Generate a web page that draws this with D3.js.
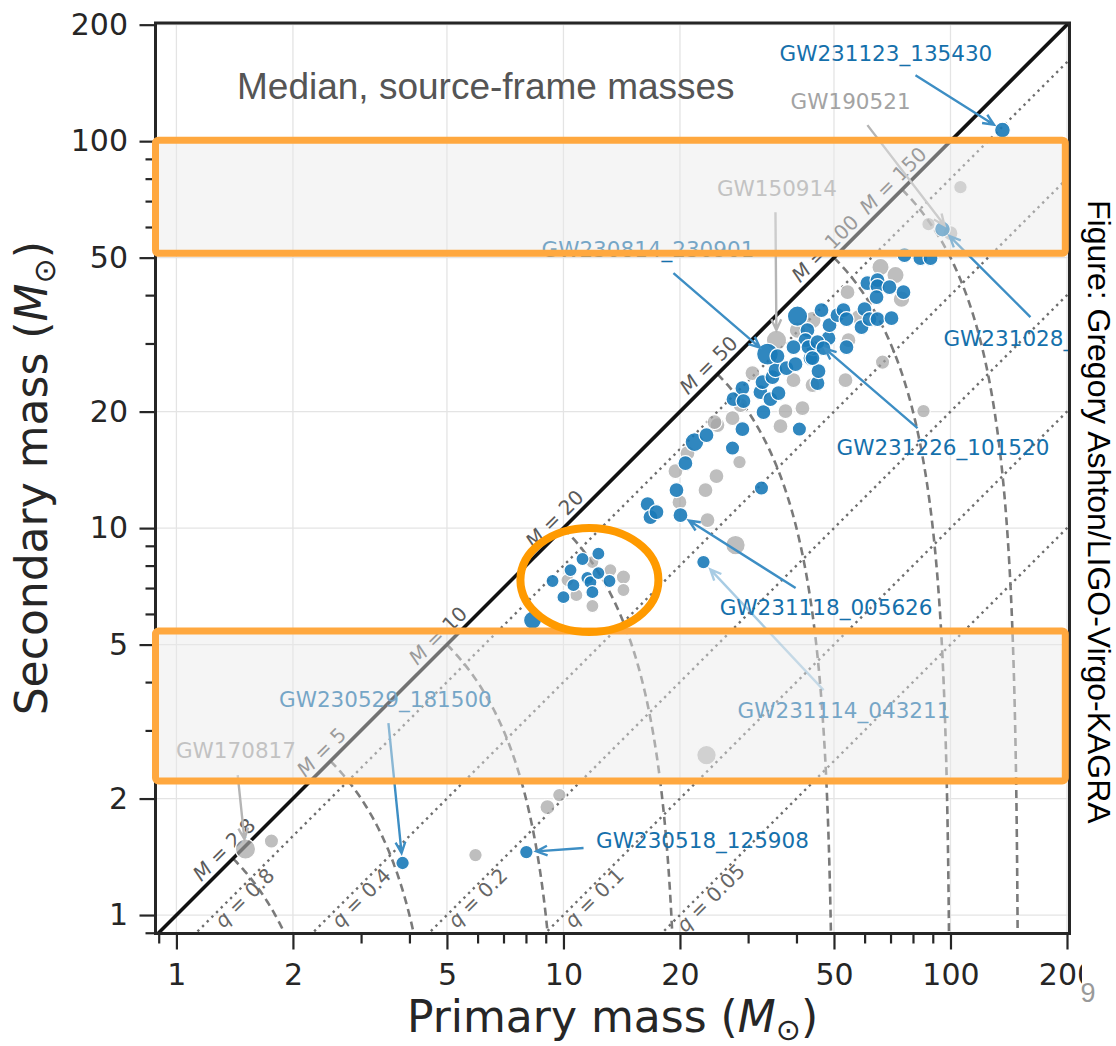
<!DOCTYPE html>
<html>
<head>
<meta charset="utf-8">
<script src="https://cdn.jsdelivr.net/npm/d3@7"></script>
<style>
	body { margin: 0; background: #fff; }
	svg { display: block; }
</style>
</head>
<body>
<div id="chart"></div>
<script>
// Median source-frame masses (solar masses)
const blueM1 = [9.37, 10.0, 10.43, 11.2, 12.31, 10.61, 11.53, 11.74, 12.31, 11.88, 13.15, 8.32,
	16.5, 16.78, 17.39, 19.59, 20.06, 23.0, 20.66, 21.8, 23.42, 27.34, 32.48, 29.0, 40.7,
	27.5, 29.0, 29.18, 32.87, 32.28, 34.26, 35.94, 32.68, 34.67, 35.3, 37.69, 39.77, 45.33, 45.6,
	53.86, 48.4, 43.47, 44.26, 40.25, 33.66, 35.73, 42.7, 42.2, 39.3, 42.97, 45.33, 46.97, 44.0,
	48.69, 46.42, 51.05, 52.9, 53.86, 59.95, 58.9, 61.76, 64.77, 70.4, 61.0, 64.77, 64.77, 69.57, 64.4, 75.6,
	76.05, 83.6, 88.8, 95.35, 136.2, 3.84, 8.02];
const blueM2 = [7.30, 6.63, 7.79, 8.32, 8.59, 7.12, 7.43, 7.25, 7.65, 6.83, 7.30, 5.78,
	11.53, 10.68, 11.0, 12.54, 10.8, 8.17, 14.72, 16.68, 17.39, 16.1, 12.69, 18.03, 18.03,
	21.54, 23.0, 21.29, 19.94, 22.46, 21.54, 22.33, 23.84, 24.56, 25.6, 25.91, 26.53, 23.7, 25.45,
	29.36, 30.97, 27.5, 29.18, 35.3, 28.16, 27.83, 32.48, 30.6, 29.36, 29.36, 30.24, 29.18, 27.5,
	33.46, 36.59, 35.51, 36.59, 34.68, 36.81, 33.07, 34.68, 34.68, 34.88, 42.97, 43.74, 42.2, 41.95, 39.53, 40.7,
	50.75, 49.85, 49.85, 59.25, 106.8, 1.363, 1.455];
// relative marker size
const blueRel = [0.87, 0.87, 0.87, 0.87, 0.87, 0.87, 0.87, 0.87, 0.87, 0.87, 0.87, 1.2,
	1, 1, 1, 1, 1, 0.9, 1, 1.25, 1, 0.95, 0.95, 1, 0.95,
	1, 1, 1, 1, 1, 1, 1, 1, 1, 1, 1, 1, 1, 1,
	1, 1, 1, 1, 1.35, 1.45, 1, 1, 1, 1, 1, 1, 1, 1,
	1, 1, 1, 1, 1, 1, 1, 1, 1, 1, 1, 1, 1, 1, 1, 1,
	1, 1, 1, 1.05, 1.05, 0.9, 0.9];

const grayM1 = [11.88, 13.22, 14.29, 14.29, 10.24, 10.8, 11.88,
	19.47, 19.94, 23.56, 27.83, 23.28, 24.85, 28.5, 20.91, 25.0, 24.56, 27.34, 28.67, 36.37, 37.47, 41.45, 39.3, 53.54, 66.75, 85.16, 30.78, 44.0,
	23.42, 1.76, 1.508, 5.925, 9.09, 9.76,
	106.1, 87.75, 100, 65.95, 72.1, 54.2, 74.7, 44.0, 40.25, 54.5, 35.51, 57.85];
const grayM2 = [8.17, 7.79, 7.47, 6.92, 7.34, 6.71, 6.29,
	14.04, 11.67, 10.49, 9.04, 12.54, 13.63, 14.81, 15.62, 18.46, 18.79, 19.24, 20.79, 18.34, 20.06, 20.42, 24.12, 24.12, 26.85, 20.06, 25.15, 23.42,
	2.59, 1.553, 1.481, 1.429, 1.901, 2.042,
	76.05, 61.0, 57.85, 47.25, 45.07, 40.7, 39.06, 34.47, 32.48, 30.6, 30.6, 35.1];
const grayRel = [0.87, 0.87, 0.95, 0.87, 0.87, 0.87, 0.87,
	1, 1, 1, 1.3, 1, 1, 0.9, 1, 1, 1, 1, 1, 1, 1, 1, 1, 1, 0.95, 0.9, 1, 1,
	1.3, 0.95, 1.35, 0.9, 1, 0.9,
	0.9, 0.9, 1, 1.15, 1.15, 1, 1.1, 1.15, 1.1, 1, 1.35, 1];

const majorTicks = [1, 2, 5, 10, 20, 50, 100, 200];
const minorTicks = [0.9, 3, 4, 6, 7, 8, 9, 30, 40, 60, 70, 80, 90];
const totalMasses = [2.8, 5, 10, 20, 50, 100, 150];
const massRatios = [0.8, 0.4, 0.2, 0.1, 0.05];
const gapBands = [[51.3, 100.6], [2.22, 5.42]];
const clusterCentre = [11.67, 7.34];

// named events: text centre, arrow tail, arrow target (all in masses)
const events = [
	{ name: "GW231123_135430", tone: "blue", text: [68.1, 168.3], from: [81.2, 148.1], to: [136.2, 106.8] },
	{ name: "GW190521", tone: "gray", text: [55.2, 126.5], from: [61.0, 110.0], to: [100, 57.85] },
	{ name: "GW150914", tone: "gray", text: [35.6, 75.4], from: [35.3, 65.5], to: [35.51, 30.6] },
	{ name: "GW230814_230901", tone: "blue", text: [16.53, 52.6], from: [19.24, 45.6], to: [33.66, 28.16] },
	{ name: "GW231028_153006", tone: "blue", text: [95.9, 30.97], from: [160.9, 35.1], to: [95.35, 59.25], anchor: "start" },
	{ name: "GW231226_101520", tone: "blue", text: [95.6, 16.19], from: [82.2, 18.13], to: [45.33, 30.24] },
	{ name: "GW231118_005626", tone: "blue", text: [47.7, 6.25], from: [39.8, 7.0], to: [20.06, 10.8] },
	{ name: "GW231114_043211", tone: "pale", text: [53.06, 3.387], from: [47.0, 3.814], to: [23.0, 8.17] },
	{ name: "GW230529_181500", tone: "blue", text: [3.467, 3.616], from: [3.53, 3.134], to: [3.84, 1.363] },
	{ name: "GW170817", tone: "gray", text: [1.425, 2.661], from: [1.44, 2.30], to: [1.508, 1.481] },
	{ name: "GW230518_125908", tone: "blue", text: [22.87, 1.562], from: [11.27, 1.49], to: [8.02, 1.455] }
];

const SANS = "'DejaVu Sans', sans-serif";
const ARIAL = "'Liberation Sans', Arial, sans-serif";

class MassPlot {
	constructor(id, box) {
		this.box = box;
		this.x = d3.scaleLog().domain([0.883, 203]).range([box.left, box.right]);
		this.y = d3.scaleLog().domain([0.896, 202]).range([box.bottom, box.top]);
		this.svg = d3.select(id).append("svg")
			.attr("width", 1116)
			.attr("height", 1046);
		this.svg.append("defs").append("clipPath").attr("id", "plotclip")
			.append("rect")
			.attr("x", box.left).attr("y", box.top)
			.attr("width", box.right - box.left).attr("height", box.bottom - box.top);
		this.g = this.svg.append("g").attr("clip-path", "url(#plotclip)");

		this.drawGrid();
		this.drawGuides();
		this.plot(grayM1, grayM2, grayRel, "#a3a3a3", 0.7);
		this.plot(blueM1, blueM2, blueRel, "#1a7ab8", 0.9);
		this.annotate();
		this.drawAxes();
		this.drawHighlights();
		this.drawTexts();
	}

	drawGrid() {
		var g = this.g.append("g").attr("class", "grid");
		var b = this.box;
		majorTicks.forEach((v) => {
			g.append("line")
				.attr("x1", this.x(v)).attr("x2", this.x(v))
				.attr("y1", b.top).attr("y2", b.bottom)
				.attr("stroke", "#e4e4e4").attr("stroke-width", 1.3);
			g.append("line")
				.attr("x1", b.left).attr("x2", b.right)
				.attr("y1", this.y(v)).attr("y2", this.y(v))
				.attr("stroke", "#e4e4e4").attr("stroke-width", 1.3);
		});
	}

	drawGuides() {
		var g = this.g.append("g").attr("class", "guides");
		var xd = this.x.domain(), yd = this.y.domain();
		var line = d3.line().x(d => this.x(d[0])).y(d => this.y(d[1]));

		// constant mass ratio
		massRatios.forEach((q) => {
			g.append("path")
				.attr("d", line([[xd[0], q * xd[0]], [xd[1], q * xd[1]]]))
				.attr("fill", "none").attr("stroke", "#6e6e6e")
				.attr("stroke-width", 2.4).attr("stroke-dasharray", "2.4,4.2");
		});

		// constant total mass
		totalMasses.forEach((M) => {
			var top = Math.log(M / 2), bot = Math.log(yd[0] * 0.97);
			var pts = d3.range(0, 1.0001, 0.01).map((t) => {
				var m2 = Math.exp(top + t * (bot - top));
				return [M - m2, m2];
			});
			g.append("path")
				.attr("d", line(pts))
				.attr("fill", "none").attr("stroke", "#7a7a7a")
				.attr("stroke-width", 2.6).attr("stroke-dasharray", "8,5");
		});

		// equal mass
		g.append("path")
			.attr("d", line([[xd[0], xd[0]], [xd[1], xd[1]]]))
			.attr("stroke", "#111").attr("stroke-width", 3.6);

		totalMasses.forEach((M) => {
			var px = this.x(M / 2) - 9, py = this.y(M / 2) - 9;
			var t = g.append("text")
				.attr("transform", `translate(${px},${py}) rotate(-45)`)
				.attr("text-anchor", "middle")
				.attr("dominant-baseline", "central")
				.attr("font-family", SANS).attr("font-size", 20)
				.attr("fill", "#5a5a5a");
			t.append("tspan").attr("font-style", "italic").text("M");
			t.append("tspan").text(` = ${M}`);
		});

		massRatios.forEach((q) => {
			var px = this.x(1.2 / q), py = this.y(1.2) + 13.5;
			var t = g.append("text")
				.attr("transform", `translate(${px},${py}) rotate(-45)`)
				.attr("text-anchor", "middle")
				.attr("dominant-baseline", "central")
				.attr("font-family", SANS).attr("font-size", 20)
				.attr("fill", "#666");
			t.append("tspan").attr("font-style", "italic").text("q");
			t.append("tspan").text(` = ${q}`);
		});
	}

	plot(m1, m2, rel, colour, alpha) {
		var g = this.g.append("g").attr("class", "points");
		m1.forEach((v, i) => {
			g.append("circle")
				.attr("cx", this.x(v))
				.attr("cy", this.y(m2[i]))
				.attr("r", 7.5 * rel[i])
				.attr("fill", colour)
				.attr("fill-opacity", alpha)
				.attr("stroke", "#fff")
				.attr("stroke-width", 1.2);
		});
	}

	annotate() {
		var g = this.g.append("g").attr("class", "events");
		var tones = {
			blue: { text: "#1570ab", line: "#3d8ec4", op: 1 },
			pale: { text: "#1570ab", line: "#3d8ec4", op: 0.45 },
			gray: { text: "#a3a3a3", line: "#b5b5b5", op: 1 }
		};
		events.forEach((e) => {
			var c = tones[e.tone];
			var x0 = this.x(e.from[0]), y0 = this.y(e.from[1]);
			var x1 = this.x(e.to[0]), y1 = this.y(e.to[1]);
			var a = Math.atan2(y1 - y0, x1 - x0);
			x1 -= 10 * Math.cos(a);
			y1 -= 10 * Math.sin(a);
			var h = 12, s = 0.42;
			g.append("path")
				.attr("d", `M${x0},${y0}L${x1},${y1}` +
					`M${x1 - h * Math.cos(a - s)},${y1 - h * Math.sin(a - s)}L${x1},${y1}` +
					`L${x1 - h * Math.cos(a + s)},${y1 - h * Math.sin(a + s)}`)
				.attr("fill", "none")
				.attr("stroke", c.line).attr("stroke-width", 2.4)
				.attr("stroke-opacity", c.op);
			g.append("text")
				.text(e.name)
				.attr("x", this.x(e.text[0]))
				.attr("y", this.y(e.text[1]))
				.attr("text-anchor", e.anchor || "middle")
				.attr("dominant-baseline", "central")
				.attr("font-family", SANS).attr("font-size", 21.5)
				.attr("fill", c.text);
		});
	}

	drawAxes() {
		var b = this.box;
		var styleAxis = (sel) => {
			sel.select(".domain").remove();
			sel.selectAll("line").attr("stroke", "#262626").attr("stroke-width", 2.2);
			sel.selectAll("text")
				.attr("font-family", SANS).attr("font-size", 30).attr("fill", "#262626");
		};

		this.svg.append("g")
			.attr("transform", `translate(0, ${b.bottom})`)
			.call(d3.axisBottom(this.x).tickValues(minorTicks).tickFormat("").tickSize(10))
			.call(styleAxis);
		this.svg.append("g")
			.attr("transform", `translate(0, ${b.bottom})`)
			.call(d3.axisBottom(this.x).tickValues(majorTicks).tickFormat(d3.format("d")).tickSize(16).tickPadding(14))
			.call(styleAxis);
		this.svg.append("g")
			.attr("transform", `translate(${b.left}, 0)`)
			.call(d3.axisLeft(this.y).tickValues(minorTicks).tickFormat("").tickSize(10))
			.call(styleAxis);
		this.svg.append("g")
			.attr("transform", `translate(${b.left}, 0)`)
			.call(d3.axisLeft(this.y).tickValues(majorTicks).tickFormat(d3.format("d")).tickSize(16).tickPadding(11.5))
			.call(styleAxis);

		this.svg.append("rect")
			.attr("x", b.left).attr("y", b.top)
			.attr("width", b.right - b.left).attr("height", b.bottom - b.top)
			.attr("fill", "none").attr("stroke", "#262626").attr("stroke-width", 3);
	}

	drawHighlights() {
		var g = this.svg.append("g").attr("class", "highlights");
		var x0 = this.x(this.x.domain()[0]), x1 = this.x(198);
		gapBands.forEach((band) => {
			var yt = this.y(band[1]), yb = this.y(band[0]);
			g.append("rect")
				.attr("x", x0).attr("y", yt)
				.attr("width", x1 - x0).attr("height", yb - yt)
				.attr("fill", "#e8e8e8").attr("fill-opacity", 0.45);
			g.append("rect")
				.attr("x", x0).attr("y", yt)
				.attr("width", x1 - x0).attr("height", yb - yt)
				.attr("rx", 3)
				.attr("fill", "none").attr("stroke", "#ffa83f").attr("stroke-width", 7);
		});
		g.append("ellipse")
			.attr("cx", this.x(clusterCentre[0]))
			.attr("cy", this.y(clusterCentre[1]))
			.attr("rx", 69).attr("ry", 52)
			.attr("fill", "none").attr("stroke", "#ff9a00").attr("stroke-width", 8);
	}

	drawTexts() {
		var b = this.box;
		this.svg.append("text")
			.text("Median, source-frame masses")
			.attr("x", 237).attr("y", 99)
			.attr("font-family", ARIAL).attr("font-size", 37)
			.attr("fill", "#555");

		var xl = this.svg.append("text")
			.attr("x", (b.left + b.right) / 2).attr("y", 1032)
			.attr("text-anchor", "middle")
			.attr("font-family", SANS).attr("font-size", 44).attr("fill", "#262626");
		xl.append("tspan").text("Primary mass (");
		xl.append("tspan").attr("font-style", "italic").text("M");
		xl.append("tspan").attr("font-size", 30).attr("dy", 8).text("\u2299");
		xl.append("tspan").attr("dy", -8).text(")");

		var yl = this.svg.append("text")
			.attr("transform", `translate(47, ${(b.top + b.bottom) / 2}) rotate(-90)`)
			.attr("text-anchor", "middle")
			.attr("font-family", SANS).attr("font-size", 44).attr("fill", "#262626");
		yl.append("tspan").text("Secondary mass (");
		yl.append("tspan").attr("font-style", "italic").text("M");
		yl.append("tspan").attr("font-size", 30).attr("dy", 8).text("\u2299");
		yl.append("tspan").attr("dy", -8).text(")");

		// credit strip on the right, which also hides the end of the last tick label
		this.svg.append("rect")
			.attr("x", 1082).attr("y", 170).attr("width", 34).attr("height", 815)
			.attr("fill", "#fff");
		this.svg.append("text")
			.text("Figure: Gregory Ashton/LIGO-Virgo-KAGRA")
			.attr("transform", "translate(1088, 200) rotate(90)")
			.attr("font-family", ARIAL).attr("font-size", 32).attr("fill", "#000");
		this.svg.append("text")
			.text("9")
			.attr("x", 1088).attr("y", 1002)
			.attr("text-anchor", "middle")
			.attr("font-family", ARIAL).attr("font-size", 27).attr("fill", "#999");
	}
}

new MassPlot("#chart", { left: 155.5, right: 1069.5, top: 23, bottom: 933.5 });
</script>
</body>
</html>
